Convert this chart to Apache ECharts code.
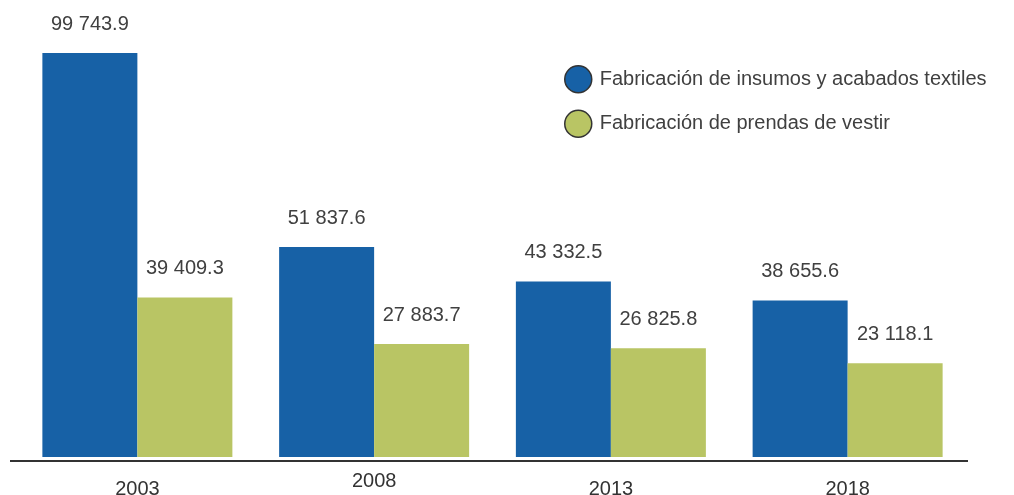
<!DOCTYPE html>
<html>
<head>
<meta charset="utf-8">
<script src="https://cdn.jsdelivr.net/npm/echarts@6/dist/echarts.min.js"></script>
<style>
  html, body { margin: 0; padding: 0; background: #fff; }
  #main { width: 1014px; height: 495px; }
</style>
</head>
<body>
<div id="main"></div>
<script>
// datos
var years = ['2003', '2008', '2013', '2018'];
var insumos = [99743.9, 51837.6, 43332.5, 38655.6];
var prendas = [39409.3, 27883.7, 26825.8, 23118.1];
var seriesNames = ['Fabricación de insumos y acabados textiles', 'Fabricación de prendas de vestir'];

var myChart = echarts.init(document.getElementById('main'));

function fmt(v) {
    var parts = v.toFixed(1).split('.');
    return parts[0].replace(/\B(?=(\d{3})+(?!\d))/g, ' ') + '.' + parts[1];
}

// 2008 esta un poco mas arriba en la imagen
var catData = years.map(function (y) {
    if (y == '2008') return { value: y };
    return { value: y, textStyle: { padding: [8, 0, 0, 0] } };
});

var labelCfg = {
    show: true,
    position: 'top',
    distance: 19,
    fontFamily: 'Liberation Sans, Arial, sans-serif',
    fontSize: 20,
    color: '#404040',
    formatter: function (p) { return fmt(p.value); }
};

var option = {
    animation: false,
    textStyle: { fontFamily: 'Liberation Sans, Arial, sans-serif' },
    legend: {
        orient: 'vertical',
        left: 559,
        top: 60,
        icon: 'circle',
        itemWidth: 27,
        itemHeight: 27,
        itemGap: 16,
        itemStyle: { borderColor: '#333', borderWidth: 1.5 },
        textStyle: { fontSize: 20, lineHeight: 27, color: '#404040', padding: [0, 0, 0, 3] },
        data: seriesNames
    },
    graphic: [{
        type: 'line',
        shape: { x1: 10, y1: 461, x2: 968, y2: 461 },
        style: { stroke: '#333', lineWidth: 2 }
    }],
    grid: { left: 19, right: 48, top: 52, bottom: 38, outerBoundsMode: 'none' },
    xAxis: {
        type: 'category',
        data: catData,
        offset: 4,
        axisLine: { show: false, onZero: false },
        axisTick: { show: false },
        axisLabel: { fontSize: 20, color: '#333', margin: 10 }
    },
    yAxis: {
        type: 'value',
        min: 0,
        max: 100000,
        show: false,
        splitLine: { show: false }
    },
    series: [{
        name: seriesNames[0],
        type: 'bar',
        data: insumos,
        barWidth: 95,
        barGap: '0%',
        itemStyle: { color: '#1761A6' },
        label: labelCfg
    }, {
        name: seriesNames[1],
        type: 'bar',
        data: prendas,
        barWidth: 95,
        itemStyle: { color: '#B9C564' },
        label: labelCfg
    }]
};

myChart.setOption(option);
</script>
</body>
</html>
